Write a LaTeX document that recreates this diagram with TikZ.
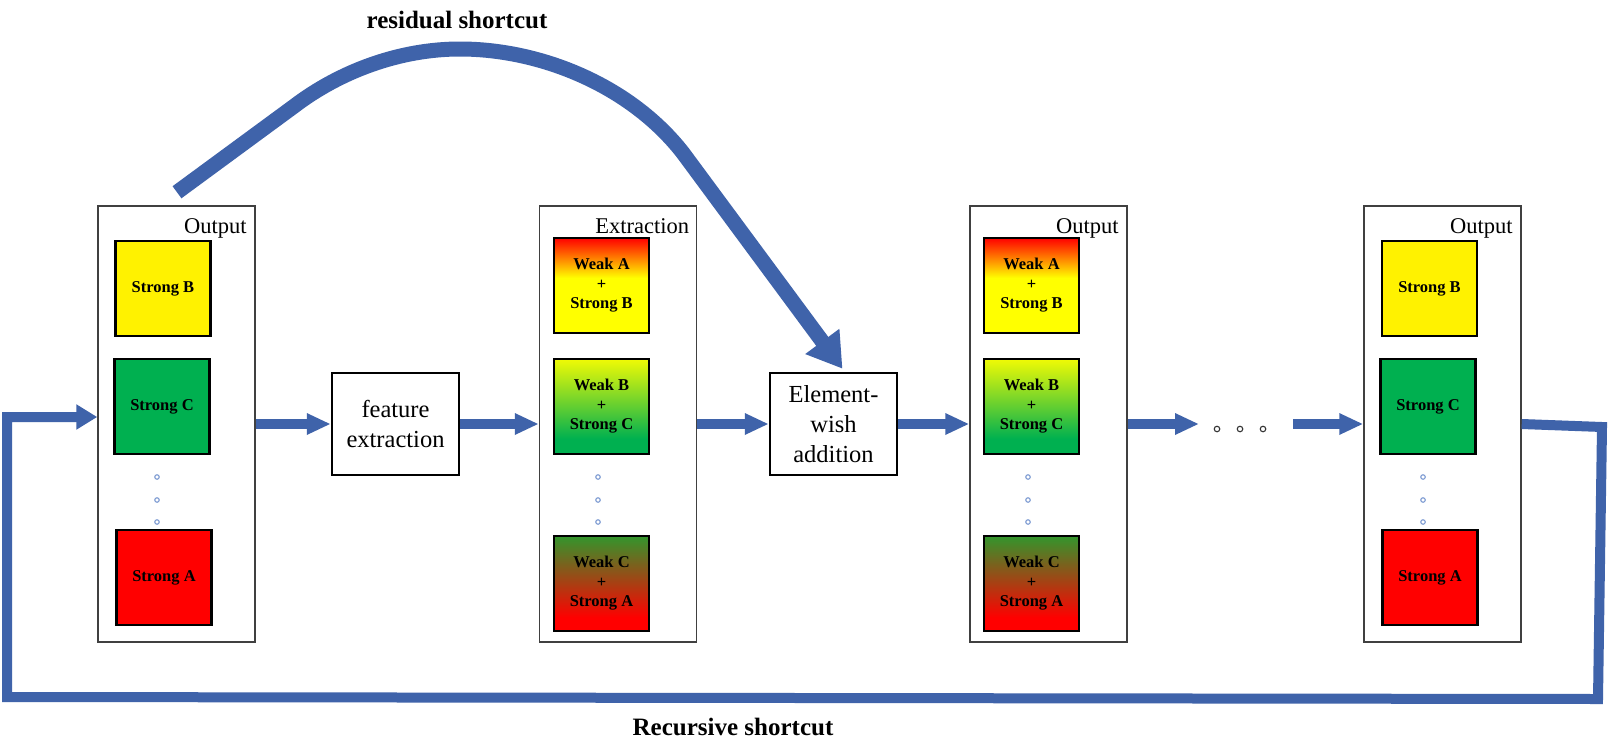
\documentclass[tikz,border=0pt]{standalone}
\usepackage{fontspec}
\setmainfont{Liberation Serif}
\usetikzlibrary{arrows.meta,calc}
\definecolor{arrowblue}{RGB}{63,99,170}
\definecolor{ofgreen}{RGB}{0,176,80}
\definecolor{dotblue}{RGB}{125,155,210}
\colorlet{ygreen}{yellow!94!ofgreen}
\colorlet{dgreen}{ofgreen!70!black!80!yellow}
\pgfdeclareverticalshading{shadeA}{100bp}{color(0bp)=(yellow); color(54bp)=(yellow); color(75bp)=(red); color(100bp)=(red)}
\pgfdeclareverticalshading{shadeB}{100bp}{color(0bp)=(ofgreen); color(33bp)=(ofgreen); color(75bp)=(ygreen); color(100bp)=(ygreen)}
\pgfdeclareverticalshading{shadeC}{100bp}{color(0bp)=(red); color(32bp)=(red); color(75bp)=(dgreen); color(100bp)=(dgreen)}
\begin{document}
\begin{tikzpicture}[x=1pt,y=-1pt,
  bigbox/.style={draw=black!75, line width=1.5pt, minimum width=157pt, minimum height=436pt, inner sep=0pt},
  sq/.style={draw=black, line width=2.8pt, minimum width=95pt, minimum height=95pt, inner sep=0pt, align=center, font=\bfseries\fontsize{16.5}{19.5}\selectfont},
  procbox/.style={draw=black, line width=2.5pt, minimum width=127pt, minimum height=102pt, inner sep=0pt, align=center, font=\fontsize{24.5}{30}\selectfont},
  boxlabel/.style={anchor=base east, inner sep=0pt, font=\fontsize{22.5}{27}\selectfont},
  flow/.style={draw=arrowblue, line width=9.5pt, -{Triangle[length=24pt,width=20pt]}},
  recflow/.style={draw=arrowblue, line width=10pt, line join=miter, -{Triangle[length=21pt,width=24pt]}},
  resflow/.style={draw=arrowblue, line width=15pt, -{Triangle[length=34pt,width=40pt]}},
  bdot/.style={draw=dotblue, line width=1.1pt, fill=white, circle, inner sep=0pt, minimum size=4.5pt},
  kdot/.style={draw=black!80, line width=1.1pt, fill=white, circle, inner sep=0pt, minimum size=5.5pt},
  caption/.style={font=\bfseries\fontsize{25}{30}\selectfont, inner sep=0pt, anchor=base}
]
\useasboundingbox (0,0) rectangle (1610,753);
\fill[white] (0,0) rectangle (1610,753);

% big boxes
\node[bigbox] (b1) at (176.5,424) {};
\node[bigbox] (b2) at (618,424) {};
\node[bigbox] (b3) at (1048.5,424) {};
\node[bigbox] (b4) at (1442.5,424) {};

\node[boxlabel] (l1) at ($(b1.north east)+(-9,28)$) {Output};
\node[boxlabel] (l2) at ($(b2.north east)+(-8,28)$) {Extraction};
\node[boxlabel] (l3) at ($(b3.north east)+(-9,28)$) {Output};
\node[boxlabel] (l4) at ($(b4.north east)+(-9,28)$) {Output};

% squares box 1
\node[sq, fill=yellow] (b1s1) at (163,288.5) {Strong B};
\node[sq, fill=ofgreen] (b1s2) at (162,406.5) {Strong C};
\node[sq, fill=red] (b1s3) at (164,577.5) {Strong A};
% squares box 2
\node[sq, shading=shadeA] (b2s1) at (601.5,285.5) {Weak A\\+\\Strong B};
\node[sq, shading=shadeB] (b2s2) at (601.5,406.5) {Weak B\\+\\Strong C};
\node[sq, shading=shadeC] (b2s3) at (601.5,583.5) {Weak C\\+\\Strong A};
% squares box 3
\node[sq, shading=shadeA] (b3s1) at (1031.5,285.5) {Weak A\\+\\Strong B};
\node[sq, shading=shadeB] (b3s2) at (1031.5,406.5) {Weak B\\+\\Strong C};
\node[sq, shading=shadeC] (b3s3) at (1031.5,583.5) {Weak C\\+\\Strong A};
% squares box 4
\node[sq, fill=yellow] (b4s1) at (1429.5,288.5) {Strong B};
\node[sq, fill=ofgreen] (b4s2) at (1428,406.5) {Strong C};
\node[sq, fill=red] (b4s3) at (1430,577.5) {Strong A};

% vertical dots
\foreach \x/\n in {157/a,598/b,1028/c,1423/d}{
  \node[bdot] (d\n1) at (\x,477) {};
  \node[bdot] (d\n2) at (\x,500) {};
  \node[bdot] (d\n3) at (\x,522) {};
}

% process boxes
\node[procbox] (fe) at (395.5,424) {feature\\extraction};
\node[procbox] (ew) at (833.5,424) {Element-\\wish\\addition};

% horizontal flow
\coordinate (c1) at (1199,424);
\coordinate (c2) at (1293,424);
\draw[flow] (b1.east) -- (fe.west);
\draw[flow] (fe.east) -- (b2.west);
\draw[flow] (b2.east) -- (ew.west);
\draw[flow] (ew.east) -- (b3.west);
\draw[flow] (b3.east) -- (c1);
\draw[flow] (c2) -- (b4.west);
\node[kdot] (h1) at (1217,429) {};
\node[kdot] (h2) at (1240,429) {};
\node[kdot] (h3) at (1263,429) {};

% recursive shortcut
\coordinate (r1) at (1602,427);
\coordinate (r2) at (1598,699);
\coordinate (r3) at (7,697);
\coordinate (r4) at (7,417);
\draw[recflow] (b4.east) -- (r1) -- (r2) -- (r3) -- (r4) -- (r4 -| b1.west);

% residual shortcut
\coordinate (s0) at ($(b1.north)+(0.5,-13)$);
\coordinate (s1) at (293,107);
\coordinate (s2) at (460,49);
\coordinate (s3) at (683,153);
\draw[resflow] (s0) -- (s1) .. controls (340,71) and (400,49) .. (s2) .. controls (540,49) and (630,85) .. (s3) -- ($(ew.north)+(9,-3)$);

\node[caption] (rs) at (457,28) {residual shortcut};
\node[caption] (rc) at (733,735) {Recursive shortcut};
\end{tikzpicture}
\end{document}
